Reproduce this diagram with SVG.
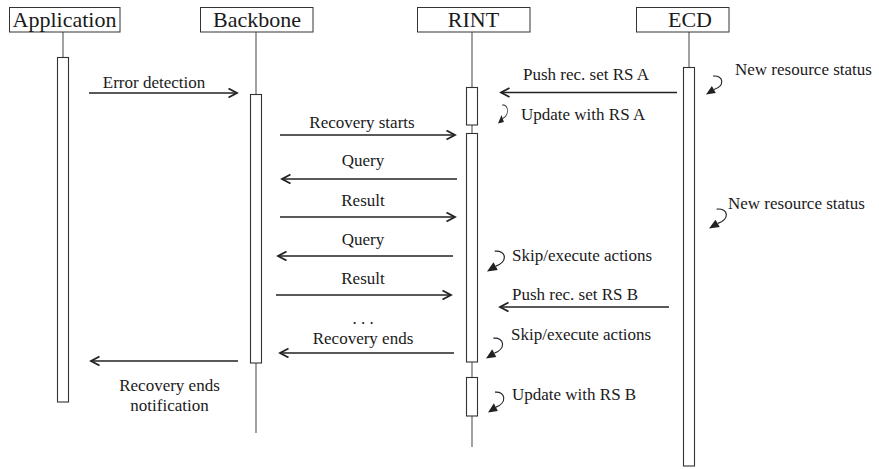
<svg xmlns="http://www.w3.org/2000/svg" xmlns:xlink="http://www.w3.org/1999/xlink" width="879" height="469" viewBox="0 0 879 469" font-family="'Liberation Serif', 'DejaVu Serif', serif">
<style>
  text { font-family: 'Liberation Serif', 'DejaVu Serif', serif; fill: #1a1a1a; }
  .hdr { font-size: 22px; text-anchor: middle; }
  .lbl { font-size: 17px; }
  .mid { text-anchor: middle; }
  .box { fill: #fff; stroke: #333; stroke-width: 1; }
  .act { fill: #fff; stroke: #333; stroke-width: 1.1; }
  .life { stroke: #555; stroke-width: 1.1; fill: none; }
  .msg { stroke: #222; stroke-width: 1.3; fill: none; marker-end: url(#open); }
  .curl { stroke: #222; stroke-width: 1.1; fill: none; }
</style>
<defs>
  <marker id="open" markerUnits="userSpaceOnUse" markerWidth="12" markerHeight="12" refX="9" refY="5" orient="auto">
    <path d="M0.5,0.5 L9,5 L0.5,9.5" fill="none" stroke="#222" stroke-width="1.8"/>
  </marker>
  <g id="curl">
    <path class="curl" d="M7,1 C18,0 19,11 8,14.6"/>
    <polygon points="0,19.5 5.9,11.1 9.8,18.1" fill="#222"/>
  </g>
</defs>

<rect width="879" height="469" fill="#fff"/>

<g id="application">
  <line class="life" x1="63" y1="32" x2="63" y2="57"/>
  <rect class="box" x="9.5" y="7.5" width="110.5" height="24.5"/>
  <text class="hdr" x="64.5" y="27" font-family="Liberation Serif">Application</text>
  <rect class="act" x="57.5" y="57.5" width="11" height="344.5"/>
</g>

<g id="backbone">
  <line class="life" x1="256" y1="32" x2="256" y2="94"/>
  <line class="life" x1="256" y1="363" x2="256" y2="433"/>
  <rect class="box" x="200.5" y="7.5" width="112.5" height="24.5"/>
  <text class="hdr" x="257" y="27" font-family="Liberation Serif">Backbone</text>
  <rect class="act" x="250.5" y="94.5" width="11" height="268.5"/>
</g>

<g id="rint">
  <line class="life" x1="472" y1="32" x2="472" y2="447"/>
  <rect class="box" x="417.5" y="7.5" width="112.5" height="24.5"/>
  <text class="hdr" x="473.5" y="27" font-family="Liberation Serif">RINT</text>
  <rect class="act" x="466.5" y="87.5" width="11" height="37.5"/>
  <rect class="act" x="466.5" y="133.5" width="11" height="228.5"/>
  <rect class="act" x="466.5" y="377.5" width="11" height="38.5"/>
</g>

<g id="ecd">
  <line class="life" x1="689" y1="32" x2="689" y2="67"/>
  <rect class="box" x="636.5" y="7.5" width="92.5" height="24.5"/>
  <text class="hdr" x="690" y="27" font-family="Liberation Serif">ECD</text>
  <rect class="act" x="683.5" y="67.5" width="11" height="398.5"/>
</g>

<g id="connectors">
  <line class="msg" x1="89" y1="93" x2="237" y2="93"/>
  <line class="msg" x1="677" y1="92.5" x2="501" y2="92.5"/>
  <line class="msg" x1="280" y1="135" x2="455" y2="135"/>
  <line class="msg" x1="457" y1="179" x2="282" y2="179"/>
  <line class="msg" x1="280" y1="217" x2="455" y2="217"/>
  <line class="msg" x1="453" y1="256" x2="278" y2="256"/>
  <line class="msg" x1="276" y1="295" x2="451" y2="295"/>
  <line class="msg" x1="669" y1="307" x2="500" y2="307"/>
  <line class="msg" x1="454" y1="353" x2="280" y2="353"/>
  <line class="msg" x1="238" y1="361" x2="91" y2="361"/>
  <use xlink:href="#curl" transform="translate(706,75)"/>
  <use xlink:href="#curl" transform="translate(498,104) scale(0.6,1)"/>
  <use xlink:href="#curl" transform="translate(709,208) scale(1.1,1.05)"/>
  <use xlink:href="#curl" transform="translate(487,250) scale(1.1,1.1)"/>
  <use xlink:href="#curl" transform="translate(486,337) scale(1.05,1.1)"/>
  <use xlink:href="#curl" transform="translate(488,391) scale(1,1.1)"/>
</g>

<g id="labels" font-family="Liberation Serif">
  <text class="lbl mid" x="154" y="88">Error detection</text>
  <text class="lbl mid" x="586" y="80">Push rec. set RS A</text>
  <text class="lbl" x="521" y="120">Update with RS A</text>
  <text class="lbl" x="735" y="75">New resource status</text>
  <text class="lbl mid" x="362" y="128">Recovery starts</text>
  <text class="lbl mid" x="363" y="166">Query</text>
  <text class="lbl mid" x="363" y="206">Result</text>
  <text class="lbl mid" x="363" y="245">Query</text>
  <text class="lbl" x="728" y="209">New resource status</text>
  <text class="lbl" x="512" y="261">Skip/execute actions</text>
  <text class="lbl mid" x="363" y="284">Result</text>
  <text class="lbl" x="512" y="300">Push rec. set RS B</text>
  <text class="lbl mid" x="363" y="324">. . .</text>
  <text class="lbl mid" x="363" y="344">Recovery ends</text>
  <text class="lbl" x="511" y="340">Skip/execute actions</text>
  <text class="lbl mid" x="169.5" y="391">Recovery ends</text>
  <text class="lbl mid" x="169.5" y="411">notification</text>
  <text class="lbl" x="512" y="400">Update with RS B</text>
</g>
</svg>
